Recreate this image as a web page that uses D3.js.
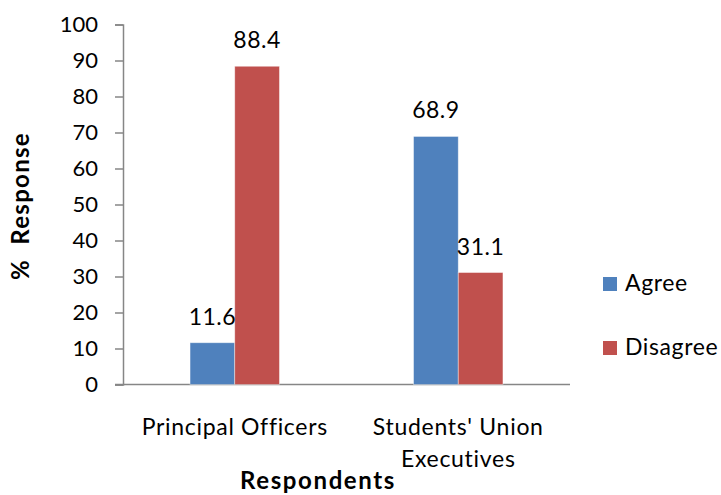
<!DOCTYPE html>
<html>
<head>
<meta charset="utf-8">
<script src="https://cdnjs.cloudflare.com/ajax/libs/d3/7.8.5/d3.min.js"></script>
<style>
  body { margin: 0; background: #fff; }
  svg text { font-family: Lato, "Open Sans", sans-serif; fill: #000; }
</style>
</head>
<body>
<svg id="chart" width="721" height="495"></svg>
<script>
var categories = ["Principal Officers", "Students' Union Executives"];
var series = ["Agree", "Disagree"];
var agree = [11.6, 68.9];
var disagree = [88.4, 31.1];
var yTicks = [0, 10, 20, 30, 40, 50, 60, 70, 80, 90, 100];
var colors = ["#4F81BD", "#C0504D"];

var svg = d3.select("#chart");

var y = d3.scaleLinear().domain([0, 100]).range([384.5, 24.5]);

var x0 = d3.scaleBand()
    .domain(categories)
    .range([123, 570])
    .paddingInner(0.6)
    .paddingOuter(0.3);

var x1 = d3.scaleBand()
    .domain(series)
    .range([0, x0.bandwidth()]);

var data = categories.map(function(c, i) {
    return { cat: c, values: [agree[i], disagree[i]] };
});

// y axis
var yAxis = svg.append("g")
    .attr("transform", "translate(123,0)")
    .call(d3.axisLeft(y).tickValues(yTicks).tickSize(8).tickPadding(17));
yAxis.select(".domain").attr("stroke", "#868686").attr("stroke-width", 1.5);
yAxis.selectAll(".tick line").attr("stroke", "#868686").attr("stroke-width", 1.5);
yAxis.selectAll(".tick text").style("font-size", "22px");

// x axis line
svg.append("line")
    .attr("x1", 115).attr("x2", 570)
    .attr("y1", y(0)).attr("y2", y(0))
    .attr("stroke", "#868686").attr("stroke-width", 1.5);

// bars
var groups = svg.selectAll(".grp")
    .data(data)
  .enter().append("g")
    .attr("class", "grp")
    .attr("transform", function(d) { return "translate(" + x0(d.cat) + ",0)"; });

groups.selectAll("rect")
    .data(function(d) { return d.values.map(function(v, j) { return { s: series[j], v: v, j: j }; }); })
  .enter().append("rect")
    .attr("x", function(d) { return x1(d.s); })
    .attr("width", x1.bandwidth())
    .attr("y", function(d) { return y(d.v); })
    .attr("height", function(d) { return y(0) - y(d.v); })
    .attr("fill", function(d) { return colors[d.j]; })
    .attr("stroke", "#fff")
    .attr("stroke-opacity", 0.5)
    .attr("stroke-width", 0.8);

groups.selectAll(".lbl")
    .data(function(d) { return d.values.map(function(v, j) { return { s: series[j], v: v }; }); })
  .enter().append("text")
    .attr("class", "lbl")
    .attr("x", function(d) { return x1(d.s) + x1.bandwidth() / 2; })
    .attr("y", function(d) { return y(d.v) - 18; })
    .attr("text-anchor", "middle")
    .style("font-size", "23px")
    .style("letter-spacing", "0.5px")
    .text(function(d) { return d.v.toFixed(1); });

// category labels (wrapped like the original)
var catLines = [["Principal Officers"], ["Students' Union", "Executives"]];
categories.forEach(function(c, i) {
    var t = svg.append("text")
        .attr("text-anchor", "middle")
        .attr("x", x0(c) + x0.bandwidth() / 2)
        .attr("y", 435)
        .style("font-size", "23px")
        .style("letter-spacing", "0.7px");
    catLines[i].forEach(function(line, k) {
        t.append("tspan")
            .attr("x", x0(c) + x0.bandwidth() / 2)
            .attr("dy", k === 0 ? 0 : 32)
            .text(line);
    });
});

// axis titles
svg.append("text")
    .attr("x", 318)
    .attr("y", 489)
    .attr("text-anchor", "middle")
    .style("font-size", "24px")
    .style("font-weight", "bold")
    .style("letter-spacing", "1.6px")
    .text("Respondents");

svg.append("text")
    .attr("transform", "translate(29,206) rotate(-90)")
    .attr("text-anchor", "middle")
    .style("font-size", "24px")
    .style("font-weight", "bold")
    .style("letter-spacing", "1.3px")
    .style("white-space", "pre")
    .text("%  Response");

// legend
var legend = svg.selectAll(".legend")
    .data(series)
  .enter().append("g")
    .attr("class", "legend")
    .attr("transform", function(d, i) { return "translate(603," + (277 + i * 64) + ")"; });

legend.append("rect")
    .attr("width", 14).attr("height", 14)
    .attr("fill", function(d, i) { return colors[i]; });

legend.append("text")
    .attr("x", 22)
    .attr("y", 14)
    .style("font-size", "23px")
    .style("letter-spacing", "0.6px")
    .text(function(d) { return d; });
</script>
</body>
</html>
